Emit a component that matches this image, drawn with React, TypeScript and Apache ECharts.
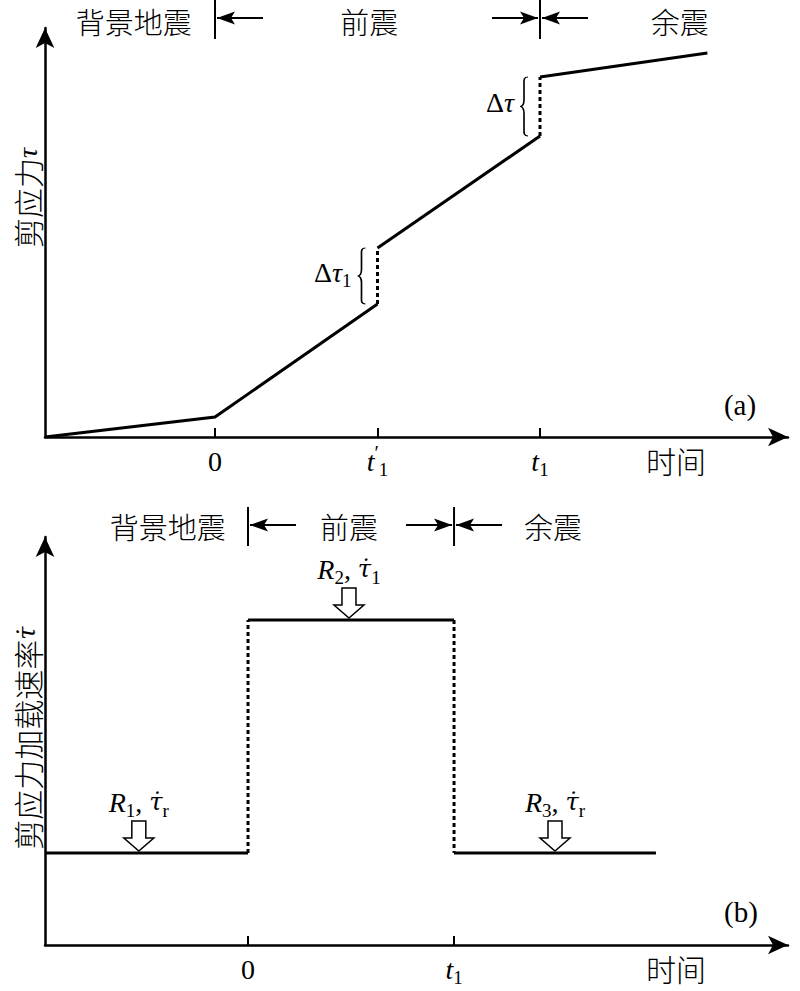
import React, { useEffect, useRef } from "react";
import * as echarts from "echarts";

// ---------- data ----------
// panel (a): shear stress vs time (time unit: 0 = start of foreshocks, 1 = t1', 2 = t1)
const SHEAR_T = [-1.046, 0, 1, 1, 2, 2, 3.03];
const SHEAR_TAU = [0, 0.2, 1.33, 1.89, 3.01, 3.6, 3.84];
const SHEAR_KIND = ["", "solid", "solid", "dotted", "solid", "dotted", "solid"];
const TICKS_A = [0, 1, 2];
const TICK_LABELS_A = ["{n|0}", "{i|t}{p|′}{s|1}", "{i|t}{s|1}"];
const PHASE_LABELS = ["背景地震", "前震", "余震"];
const PHASE_POS_A = [-0.5, 0.95, 2.86];

// panel (b): shear loading rate vs time (0 = start of foreshocks, 1 = t1)
const RATE_T = [-0.985, 0, 0, 1, 1, 1.98];
const RATE_V = [0.92, 0.92, 3.25, 3.25, 0.92, 0.92];
const RATE_KIND = ["", "solid", "dotted", "solid", "dotted", "solid"];
const TICKS_B = [0, 1];
const TICK_LABELS_B = ["{n|0}", "{i|t}{s|1}"];
const PHASE_POS_B = [-0.39, 0.49, 1.48];
const ARROW_T = [-0.53, 0.49, 1.49];
const ARROW_V = [0.92, 3.25, 0.92];
const ARROW_LABELS = [
  "{i|R}{s|1}{n|, }{d|τ̇}{s|r}",
  "{i|R}{s|2}{n|, }{d|τ̇}{s|1}",
  "{i|R}{s|3}{n|, }{d|τ̇}{s|r}",
];

const SERIF = '"Liberation Serif", "DejaVu Serif", serif';
const DSERIF = '"DejaVu Serif", "Liberation Serif", serif';
const CJK = '"Noto Sans CJK SC", sans-serif';

const rich = {
  i: { fontFamily: SERIF, fontStyle: "italic", fontSize: 28, lineHeight: 36, color: "#000" },
  d: { fontFamily: DSERIF, fontStyle: "italic", fontSize: 24, lineHeight: 36, color: "#000" },
  n: { fontFamily: SERIF, fontSize: 28, lineHeight: 36, color: "#000" },
  s: { fontFamily: SERIF, fontSize: 19, lineHeight: 18, verticalAlign: "bottom", color: "#000" },
  p: { fontFamily: SERIF, fontSize: 20, lineHeight: 20, verticalAlign: "top", color: "#000" },
  c: { fontFamily: CJK, fontSize: 30, fontWeight: 300, lineHeight: 36, color: "#000" },
};

function runs(xs: number[], ys: number[], kinds: string[]) {
  const out: { kind: string; pts: number[][] }[] = [];
  for (let i = 1; i < xs.length; i++) {
    const last = out[out.length - 1];
    if (last && last.kind === kinds[i]) {
      last.pts.push([xs[i], ys[i]]);
    } else {
      out.push({ kind: kinds[i], pts: [[xs[i - 1], ys[i - 1]], [xs[i], ys[i]]] });
    }
  }
  return out;
}

function lineSeries(xs: number[], ys: number[], kinds: string[], idx: number) {
  return runs(xs, ys, kinds).map((r) => ({
    type: "line",
    xAxisIndex: idx,
    yAxisIndex: idx,
    data: r.pts,
    symbol: "none",
    silent: true,
    lineStyle: {
      color: "#000",
      width: 3,
      type: r.kind === "dotted" ? [4, 3] : "solid",
      cap: "butt",
      join: "miter",
    },
    z: 3,
  }));
}

const ARROW_PATH = "path://M8,0 L22,0 L22,17 L30,17 L15,30 L0,17 L8,17 Z";

const BRACE_D =
  "M10,0 C4,0 5,6 5,14 L5,38 C5,46 3,50 0,50 C3,50 5,54 5,62 L5,86 C5,94 4,100 10,100";

function xAxisOf(idx: number, min: number, max: number, ticks: number[], labels: string[]) {
  return {
    type: "value",
    gridIndex: idx,
    min,
    max,
    splitLine: { show: false },
    axisLine: {
      show: true,
      onZero: false,
      lineStyle: { color: "#000", width: 2.5 },
      symbol: ["none", "arrow"],
      symbolSize: [14, 20],
    },
    axisTick: {
      show: true,
      inside: true,
      length: 9,
      customValues: ticks,
      lineStyle: { color: "#000", width: 2 },
    },
    axisLabel: {
      show: true,
      customValues: ticks,
      margin: 6,
      formatter: (v: number) => {
        const k = ticks.indexOf(v);
        return k >= 0 ? labels[k] : "";
      },
      rich,
    },
  };
}

function yAxisOf(idx: number, max: number) {
  return {
    type: "value",
    gridIndex: idx,
    min: 0,
    max,
    splitLine: { show: false },
    axisTick: { show: false },
    axisLabel: { show: false },
    axisLine: {
      show: true,
      onZero: false,
      lineStyle: { color: "#000", width: 2.5 },
      symbol: ["none", "arrow"],
      symbolSize: [14, 20],
    },
  };
}

export default function App() {
  const ref = useRef<HTMLDivElement>(null);
  useEffect(() => {
    if (!ref.current) return;
    echarts.graphic.registerShape("brace", echarts.graphic.extendPath(BRACE_D, {}));
    const chart = echarts.init(ref.current, null, { renderer: "svg" });
    const option: any = {
      animation: false,
      backgroundColor: "#fff",
      grid: [
        { left: 45, top: 28, width: 743, height: 409 },
        { left: 45, top: 537, width: 743, height: 408 },
      ],
      xAxis: [
        xAxisOf(0, -1.046, 3.526, TICKS_A, TICK_LABELS_A),
        xAxisOf(1, -0.9854, 2.621, TICKS_B, TICK_LABELS_B),
      ],
      yAxis: [yAxisOf(0, 4.09), yAxisOf(1, 4.08)],
      series: [
        ...lineSeries(SHEAR_T, SHEAR_TAU, SHEAR_KIND, 0),
        ...lineSeries(RATE_T, RATE_V, RATE_KIND, 1),
        {
          type: "scatter",
          xAxisIndex: 1,
          yAxisIndex: 1,
          silent: true,
          data: ARROW_T.map((t, i) => [t, ARROW_V[i]]),
          symbol: ARROW_PATH,
          symbolSize: [30, 30],
          symbolOffset: [0, -17],
          itemStyle: { color: "#fff", borderColor: "#000", borderWidth: 1.5, opacity: 1 },
          label: {
            show: true,
            position: "top",
            distance: 0,
            formatter: (p: any) => ARROW_LABELS[p.dataIndex],
            rich,
          },
          z: 4,
        },
      ],
    };
    chart.setOption(option);

    const gx = (i: number, v: number) => chart.convertToPixel({ xAxisIndex: i } as any, v) as number;
    const gy = (i: number, v: number) => chart.convertToPixel({ yAxisIndex: i } as any, v) as number;

    const g: any[] = [];
    const txt = (x: number, y: number, text: string, extra: any = {}, rot = 0) => {
      g.push({
        type: "text",
        x,
        y,
        rotation: rot,
        silent: true,
        style: {
          text,
          fill: "#000",
          fontFamily: CJK,
          fontSize: 30,
          fontWeight: 300,
          align: "center",
          verticalAlign: "middle",
          textAlign: "center",
          textVerticalAlign: "middle",
          rich,
          ...extra,
        },
      });
    };
    const line = (x1: number, y1: number, x2: number, y2: number, w = 2) => {
      g.push({
        type: "line",
        silent: true,
        shape: { x1, y1, x2, y2 },
        style: { stroke: "#000", lineWidth: w },
      });
    };
    const head = (tip: number, y: number, dir: number) => {
      const L = 18;
      const H = 6.5;
      g.push({
        type: "polygon",
        silent: true,
        shape: {
          points: [
            [tip, y],
            [tip - dir * L, y - H],
            [tip - dir * (L - 4), y],
            [tip - dir * L, y + H],
          ],
        },
        style: { fill: "#000" },
      });
    };
    const header = (idx: number, y: number, ty: number, seps: number[], pos: number[]) => {
      const s0 = gx(idx, seps[0]);
      const s1 = gx(idx, seps[1]);
      line(s0, y - 18, s0, y + 21, 2);
      line(s1, y - 18, s1, y + 21, 2);
      line(s0 + 2, y, s0 + 48, y, 2);
      head(s0 + 2, y, -1);
      line(s1 - 48, y, s1 - 2, y, 2);
      head(s1 - 2, y, 1);
      line(s1 + 2, y, s1 + 48, y, 2);
      head(s1 + 2, y, -1);
      PHASE_LABELS.forEach((lab, k) =>
        txt(gx(idx, pos[k]), ty, lab, { fontSize: 29 })
      );
    };
    header(0, 18, 21, [0, 2], PHASE_POS_A);
    header(1, 525, 526, [0, 1], PHASE_POS_B);

    const brace = (idx: number, t: number, lo: number, hi: number, label: string) => {
      const xj = gx(idx, t);
      const yTop = gy(idx, hi);
      const yBot = gy(idx, lo);
      const w = 8;
      const right = xj - 12;
      g.push({
        type: "brace",
        silent: true,
        x: right - w,
        y: yTop,
        scaleX: w / 10,
        scaleY: (yBot - yTop) / 100,
        style: { stroke: "#000", fill: "none", lineWidth: 1.4, strokeNoScale: true },
      });
      txt(right - w - 6, (yTop + yBot) / 2 - 4, label, {
        align: "right",
        textAlign: "right",
        fontFamily: SERIF,
      });
    };
    brace(0, SHEAR_T[2], SHEAR_TAU[2], SHEAR_TAU[3], "{n|Δ}{i|τ}{s|1}");
    brace(0, SHEAR_T[4], SHEAR_TAU[4], SHEAR_TAU[5], "{n|Δ}{i|τ}");

    txt(27, 198, "{c|剪应力}{i|τ}", {}, Math.PI / 2);
    txt(27, 738, "{c|剪应力加载速率}{d|τ̇}", {}, Math.PI / 2);
    txt(676, 460, "时间");
    txt(676, 968, "时间");
    txt(740, 405, "(a)", { fontFamily: SERIF, fontSize: 29, fontWeight: "normal" });
    txt(741, 912, "(b)", { fontFamily: SERIF, fontSize: 29, fontWeight: "normal" });

    chart.setOption({ graphic: g });
    return () => chart.dispose();
  }, []);
  return (
    <div
      ref={ref}
      style={{ position: "fixed", left: 0, top: 0, width: 800, height: 991, background: "#fff" }}
    />
  );
}
